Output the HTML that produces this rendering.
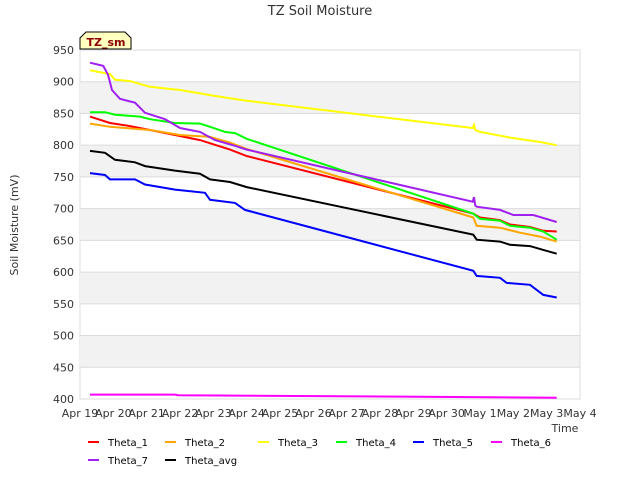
<!DOCTYPE html>
<html><head><meta charset="utf-8"><style>
body{margin:0;background:#fff;font-family:"Liberation Sans","DejaVu Sans",sans-serif}
svg text{font-family:"DejaVu Sans","Liberation Sans",sans-serif}
</style></head><body>
<svg id="chart" width="640" height="480" xmlns="http://www.w3.org/2000/svg">
<text x="320" y="15" text-anchor="middle" font-size="13" fill="#333">TZ Soil Moisture</text>
<g id="plot"></g>
<text transform="translate(18,225) rotate(-90)" text-anchor="middle" font-size="11" fill="#333">Soil Moisture (mV)</text>
<text x="565" y="432" text-anchor="middle" font-size="11" fill="#333">Time</text>
<g>
<path d="M80,49 L80,38 L86,32 L125,32 L131,38 L131,49 Z" fill="#ffffc0" stroke="#000" stroke-width="1"/>
<text x="106" y="46" text-anchor="middle" font-size="11" font-weight="bold" fill="#8b0000">TZ_sm</text>
</g>
<g id="legend"></g>
</svg>
<script>
const yTicks=[400,450,500,550,600,650,700,750,800,850,900,950];
const xTickLabels=["Apr 19","Apr 20","Apr 21","Apr 22","Apr 23","Apr 24","Apr 25","Apr 26","Apr 27","Apr 28","Apr 29","Apr 30","May 1","May 2","May 3","May 4"];
const seriesNames=["Theta_1","Theta_2","Theta_3","Theta_4","Theta_5","Theta_6","Theta_7","Theta_avg"];
const seriesColors=["#ff0000","#ffa500","#ffff00","#00ff00","#0000ff","#ff00ff","#a020f0","#000000"];
const theta1Days=[0.3,0.9,1.5,2.1,2.85,3.6,4.5,5.0,11.8,12.0,12.6,12.9,13.5,13.9,14.3];
const theta1Vals=[845,835,830,824,816,808,793,783,692,686,682,675,671,665,664];
const theta2Days=[0.3,0.9,2.1,3.0,3.9,4.5,5.0,11.8,11.9,12.6,13.2,13.8,14.3];
const theta2Vals=[834,829,824,816,813,804,794,686,673,670,662,656,648];
const theta3Days=[0.3,0.9,1.05,1.5,2.1,3.0,3.9,4.5,5.0,11.78,11.82,11.86,12.0,12.9,13.8,14.3];
const theta3Vals=[918,912,903,901,892,887,879,874,870,827,832,824,821,812,805,800];
const theta4Days=[0.3,0.75,1.05,1.8,2.1,2.85,3.6,3.9,4.35,4.65,5.0,11.8,12.0,12.6,12.9,13.5,13.9,14.3];
const theta4Vals=[852,852,848,845,841,835,834,829,821,819,810,692,684,681,673,670,664,651];
const theta5Days=[0.3,0.75,0.9,1.65,1.95,2.85,3.75,3.9,4.65,4.95,11.8,11.9,12.6,12.8,13.5,13.9,14.3];
const theta5Vals=[756,753,746,746,738,730,725,714,709,698,602,594,591,583,580,564,560];
const theta6Days=[0.3,2.85,2.95,14.3];
const theta6Vals=[407,407,406,402];
const theta7Days=[0.3,0.7,0.84,0.96,1.2,1.65,1.95,2.55,3.0,3.6,4.05,4.65,5.0,11.78,11.82,11.86,11.9,12.6,13.0,13.6,14.3];
const theta7Vals=[930,925,911,887,873,867,851,841,827,821,808,799,793,711,718,705,703,698,690,690,679];
const thetaAvgDays=[0.3,0.75,1.05,1.65,1.95,2.85,3.6,3.9,4.5,5.0,11.8,11.9,12.6,12.9,13.5,13.9,14.3];
const thetaAvgVals=[791,788,777,773,767,760,755,746,742,734,659,651,648,643,641,635,629];
const allDays=[theta1Days,theta2Days,theta3Days,theta4Days,theta5Days,theta6Days,theta7Days,thetaAvgDays];
const allVals=[theta1Vals,theta2Vals,theta3Vals,theta4Vals,theta5Vals,theta6Vals,theta7Vals,thetaAvgVals];

const X0=80,X1=580,Y0=399,Y1=50;
const xs=d=>X0+d*(X1-X0)/15;
const ys=v=>Y0-(v-400)*(Y0-Y1)/550;
const NS="http://www.w3.org/2000/svg";
function mk(tag,attrs,parent){const e=document.createElementNS(NS,tag);for(const k in attrs)e.setAttribute(k,attrs[k]);parent.appendChild(e);return e;}
const plot=document.getElementById('plot');
const bg=mk('rect',{x:X0,y:Y1,width:X1-X0,height:Y0-Y1,fill:'#fff',stroke:'#ddd'},plot);


for(let i=0;i<yTicks.length-1;i++){
  const lo=yTicks[i],hi=yTicks[i+1];
  if(i%2===1){
    const b=mk('rect',{x:X0,y:ys(hi),width:X1-X0,height:ys(lo)-ys(hi),fill:'#f2f2f2'},plot);
    
    
  }
}
yTicks.forEach(v=>{
  const g=mk('line',{x1:X0,x2:X1,y1:ys(v),y2:ys(v),stroke:'#dcdcdc'},plot);
  
  
  const t=mk('text',{x:X0-6,y:ys(v)+4,'text-anchor':'end','font-size':'11',fill:'#333'},plot);
  t.textContent=v;
  
  
});
mk('line',{x1:X1,x2:X1,y1:Y1,y2:Y0,stroke:'#ddd'},plot);
xTickLabels.forEach((s,i)=>{
  const t=mk('text',{x:xs(i),y:Y0+18,'text-anchor':'middle','font-size':'11',fill:'#333'},plot);
  t.textContent=s;
  
  
});
allDays.forEach((days,si)=>{
  const vals=allVals[si];
  let d='';
  days.forEach((dd,j)=>{d+=(j?'L':'M')+xs(dd).toFixed(1)+','+ys(vals[j]).toFixed(1);});
  const p=mk('path',{d:d,fill:'none',stroke:seriesColors[si],'stroke-width':'2'},plot);
  
  
});
const legend=document.getElementById('legend');
const lx=[88,165,258,336,413,491,88,165],ly=[442,442,442,442,442,442,460,460];
seriesNames.forEach((n,i)=>{
  const g=mk('g',{},legend);
  
  
  mk('line',{x1:lx[i],x2:lx[i]+11,y1:ly[i],y2:ly[i],stroke:seriesColors[i],'stroke-width':'2'},g);
  const t=mk('text',{x:lx[i]+20,y:ly[i]+4,'font-size':'10',fill:'#000'},g);
  t.textContent=n;
});
</script>
</body></html>
